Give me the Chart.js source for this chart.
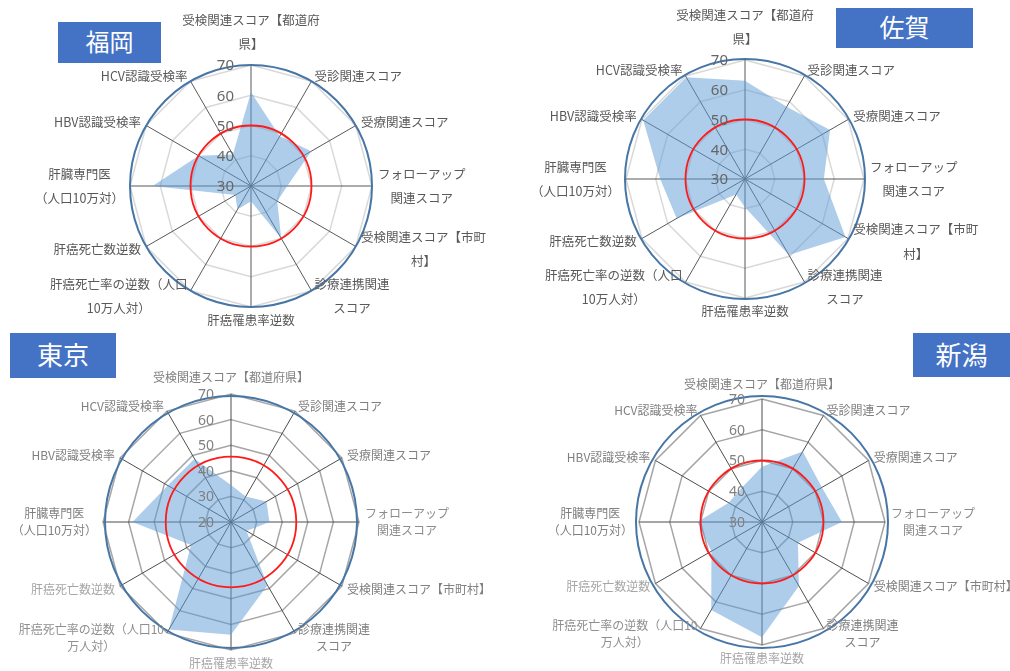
<!DOCTYPE html>
<html lang="ja">
<head>
<meta charset="utf-8">
<title>都道府県別 肝炎対策スコア</title>
<script src="https://cdn.jsdelivr.net/npm/chart.js@4.4.1/dist/chart.umd.min.js"></script>
<style>
  html, body { margin: 0; padding: 0; background: #fff; }
  #page { position: relative; width: 1010px; height: 671px; overflow: hidden; }
  #page canvas { position: absolute; left: 0; top: 0; }
  .tag {
    position: absolute;
    background: #4472c4;
    color: #fff;
    display: flex;
    align-items: center;
    justify-content: center;
    font-family: "Noto Sans CJK JP", sans-serif;
    line-height: 1;
    padding-bottom: 3px;
    box-sizing: border-box;
  }
</style>
</head>
<body>
<div id="page">
  <canvas id="fukuoka" width="1010" height="671"></canvas>
  <canvas id="saga" width="1010" height="671"></canvas>
  <canvas id="tokyo" width="1010" height="671"></canvas>
  <canvas id="niigata" width="1010" height="671"></canvas>
  <div class="tag" style="left:58px;top:22px;width:103px;height:41px;font-size:24px">福岡</div>
  <div class="tag" style="left:836px;top:8px;width:137px;height:40px;font-size:25px">佐賀</div>
  <div class="tag" style="left:10px;top:333px;width:106px;height:45px;font-size:26px">東京</div>
  <div class="tag" style="left:913px;top:333px;width:97px;height:44px;font-size:26px">新潟</div>
</div>
<script>
// axis names (two wrapping variants)
const axisLabelsWrapped = [
  ['受検関連スコア【都道府', '県】'],
  '受診関連スコア',
  '受療関連スコア',
  ['フォローアップ', '関連スコア'],
  ['受検関連スコア【市町', '村】'],
  ['診療連携関連', 'スコア'],
  '肝癌罹患率逆数',
  ['肝癌死亡率の逆数（人口', '10万人対）'],
  '肝癌死亡数逆数',
  ['肝臓専門医', '（人口10万対）'],
  'HBV認識受検率',
  'HCV認識受検率'
];
const axisLabelsWide = [
  '受検関連スコア【都道府県】',
  '受診関連スコア',
  '受療関連スコア',
  ['フォローアップ', '関連スコア'],
  '受検関連スコア【市町村】',
  ['診療連携関連', 'スコア'],
  '肝癌罹患率逆数',
  ['肝癌死亡率の逆数（人口10', '万人対）'],
  '肝癌死亡数逆数',
  ['肝臓専門医', '（人口10万対）'],
  'HBV認識受検率',
  'HCV認識受検率'
];

// scores per prefecture, same order as the axes
const fukuokaScores = [61, 49, 53, 42, 40, 50, 35, 39, 36, 62.5, 50, 42];
const sagaScores    = [63, 58, 63, 56.5, 69, 59.5, 39.5, 36, 56.5, 58.5, 69.5, 69.5];
const tokyoScores   = [34.5, 31.5, 36, 35, 27, 48.5, 64, 68.5, 38, 58.5, 48.5, 48.5];
const niigataScores = [48, 56.5, 52.5, 56, 43.5, 54, 67.5, 63, 49, 51, 42.5, 43];

// axis ranges [min, max] and the red reference level
const fukuokaRange = [30, 70];
const sagaRange    = [30, 70];
const tokyoRange   = [20, 70];
const niigataRange = [30, 70];
const referenceLevels = { fukuoka: 50, saga: 50, tokyo: 45.5, niigata: 50 };

const PAGE_W = 1010, PAGE_H = 671;
const JP_FONT = '"Noto Sans CJK JP", "Noto Sans", sans-serif';

// draws reference ring, outer frame, tick numbers and axis names
const overlayPlugin = {
  id: 'overlay',
  afterDatasetsDraw(chart, args, o) {
    const r = chart.scales.r;
    const ctx = chart.ctx;
    ctx.save();

    ctx.beginPath();
    ctx.arc(r.xCenter, r.yCenter, r.getDistanceFromCenterForValue(o.ringValue), 0, Math.PI * 2);
    ctx.strokeStyle = '#ff1a1a';
    ctx.lineWidth = 1.8;
    ctx.stroke();

    ctx.beginPath();
    ctx.arc(r.xCenter, r.yCenter, r.drawingArea + o.frameOffset, 0, Math.PI * 2);
    ctx.strokeStyle = '#4776a6';
    ctx.lineWidth = 2;
    ctx.stroke();

    ctx.font = o.tickSize + 'px "Noto Sans", sans-serif';
    ctx.fillStyle = o.tickColor;
    ctx.textAlign = 'right';
    ctx.textBaseline = 'middle';
    r.ticks.forEach(t => {
      const d = r.getDistanceFromCenterForValue(t.value);
      ctx.fillText(t.label, r.xCenter - 17, r.yCenter - d + 1);
    });

    ctx.font = o.labelSize + 'px ' + JP_FONT;
    ctx.textAlign = 'center';
    chart.data.labels.forEach((lab, i) => {
      const lines = Array.isArray(lab) ? lab : [lab];
      const deg = Math.round(r.getIndexAngle(i) * 180 / Math.PI) % 360;
      const p = r.getPointPosition(i, r.drawingArea + 6 + (deg === 0 ? o.topExtra : 0));
      const w = Math.max(...lines.map(l => ctx.measureText(l).width));
      const h = (lines.length - 1) * o.lineHeight + o.labelSize * 1.2;
      let x = p.x, top;
      if (deg === 0) {
        top = p.y - h;
      } else if (deg === 180) {
        top = p.y;
      } else {
        top = p.y - h / 2;
        x = deg < 180 ? p.x + w / 2 : p.x - w / 2;
      }
      ctx.fillStyle = o.labelColors[i] || o.labelColors[0];
      lines.forEach((l, k) => ctx.fillText(l, x, top + o.labelSize * 0.6 + k * o.lineHeight));
    });

    ctx.restore();
  }
};

function makeRadar(id, labels, scores, range, cfg) {
  const ctx = document.getElementById(id).getContext('2d');
  return new Chart(ctx, {
    type: 'radar',
    data: {
      labels: labels,
      datasets: [{
        data: scores,
        backgroundColor: 'rgba(91, 155, 213, 0.5)',
        borderColor: 'rgba(0, 0, 0, 0)',
        borderWidth: 0,
        pointRadius: 0,
        fill: true
      }]
    },
    options: {
      responsive: false,
      animation: false,
      devicePixelRatio: 1,
      layout: {
        padding: {
          left: cfg.cx - cfg.radius,
          right: PAGE_W - cfg.cx - cfg.radius,
          top: cfg.cy - cfg.radius,
          bottom: PAGE_H - cfg.cy - cfg.radius
        }
      },
      plugins: {
        legend: { display: false },
        tooltip: { enabled: false },
        overlay: cfg.overlay
      },
      scales: {
        r: {
          min: range[0],
          max: range[1],
          ticks: { stepSize: 10, display: false },
          grid: { color: cfg.gridColor, lineWidth: 1.5 },
          angleLines: { color: cfg.axisColor, lineWidth: 1 },
          pointLabels: { display: false }
        }
      }
    },
    plugins: [overlayPlugin]
  });
}

const darkLabels = ['#595959'];
const softLabels = ['#808080', '#808080', '#808080', '#8c8c8c', '#808080', '#808080',
                    '#a6a6a6', '#8f8f8f', '#a6a6a6', '#808080', '#808080', '#808080'];

makeRadar('fukuoka', axisLabelsWrapped, fukuokaScores, fukuokaRange, {
  cx: 251, cy: 186, radius: 121,
  gridColor: '#d9d9d9', axisColor: '#595959',
  overlay: { ringValue: referenceLevels.fukuoka, frameOffset: 0, tickSize: 15, tickColor: '#666666',
             labelSize: 12.5, lineHeight: 24, topExtra: 7, labelColors: darkLabels }
});

makeRadar('saga', axisLabelsWrapped, sagaScores, sagaRange, {
  cx: 745, cy: 179, radius: 119,
  gridColor: '#d9d9d9', axisColor: '#595959',
  overlay: { ringValue: referenceLevels.saga, frameOffset: 1, tickSize: 15, tickColor: '#666666',
             labelSize: 12.5, lineHeight: 24.5, topExtra: 7, labelColors: darkLabels }
});

makeRadar('tokyo', axisLabelsWide, tokyoScores, tokyoRange, {
  cx: 231, cy: 522, radius: 128,
  gridColor: '#a6a6a6', axisColor: '#4d4d4d',
  overlay: { ringValue: referenceLevels.tokyo, frameOffset: -2, tickSize: 14, tickColor: '#808080',
             labelSize: 12, lineHeight: 16.5, topExtra: 3, labelColors: softLabels }
});

makeRadar('niigata', axisLabelsWide, niigataScores, niigataRange, {
  cx: 762, cy: 522, radius: 123,
  gridColor: '#a6a6a6', axisColor: '#4d4d4d',
  overlay: { ringValue: referenceLevels.niigata, frameOffset: 3, tickSize: 14, tickColor: '#808080',
             labelSize: 12, lineHeight: 17, topExtra: 1, labelColors: softLabels }
});
</script>
</body>
</html>
